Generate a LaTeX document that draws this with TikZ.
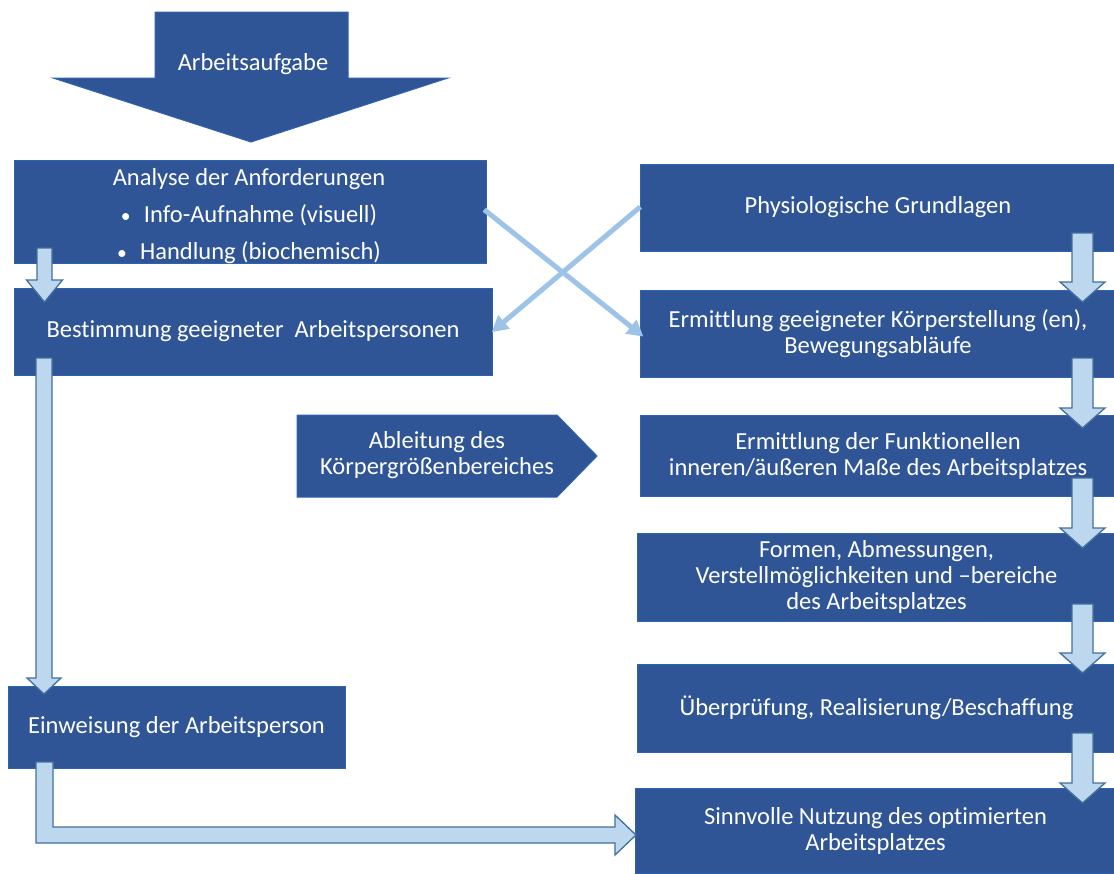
\documentclass[tikz,border=0pt]{standalone}
\usepackage{fontspec}
\setmainfont[Ligatures=NoCommon]{Carlito}
\usetikzlibrary{arrows.meta}
\definecolor{boxblue}{HTML}{2F5597}
\definecolor{boxedge}{HTML}{2E63B0}
\definecolor{arrfill}{HTML}{BDD7EE}
\definecolor{arredge}{HTML}{41719C}
\definecolor{xline}{HTML}{9DC3E6}
\newcommand{\blkdown}[6]{%
  \draw[blk] ({#1-#5},#2) -- ({#1+#5},#2) -- ({#1+#5},#3) -- ({#1+#6},#3) -- (#1,#4) -- ({#1-#6},#3) -- ({#1-#5},#3) -- cycle;}
\newcommand{\bul}{\makebox[23pt][l]{\scalebox{0.8}{•}}}
\tikzset{
  boxshape/.style={draw=boxedge, fill=boxblue, line width=1pt},
  box/.style={boxshape, inner sep=0pt, text=white, align=center, font=\fontsize{24.5}{26}\selectfont},
  txt/.style={inner sep=0pt, text=white, align=center, font=\fontsize{24.5}{26}\selectfont},
  blk/.style={draw=arredge, fill=arrfill, line width=1.3pt, line join=miter},
  xl/.style={draw=xline, line width=5pt, -{Triangle[length=16pt,width=17pt]}}
}
\begin{document}
\begin{tikzpicture}[x=1pt,y=-1pt]
\useasboundingbox (0,0) rectangle (1114,873);
\fill[white] (0,0) rectangle (1114,873);

% big arrow
\draw[boxshape] (155,12) -- (348,12) -- (348,78) -- (448,78) -- (251,142) -- (53,78) -- (155,78) -- cycle;
\node[txt] (aufg) at (253,64) {Arbeitsaufgabe};

% left column
\node[box, minimum width=472pt, minimum height=103pt] (A) at (250,211.5) {};
\node[txt] (Atext) at (249,216)
  {Analyse der Anforderungen\\[11pt]
   \bul Info-Aufnahme (visuell)\\[11pt]
   \bul Handlung (biochemisch)};
\node[box, minimum width=478pt, minimum height=87pt] (B) at (253,331.5)
  {Bestimmung geeigneter~ Arbeitspersonen};
\node[box, minimum width=337pt, minimum height=82pt] (Ein) at (176.5,727)
  {Einweisung der Arbeitsperson};

% pentagon
\draw[boxshape] (297,415) -- (557,415) -- (597,456) -- (557,497) -- (297,497) -- cycle;
\node[txt] (abl) at (437,455) {Ableitung des\\Körpergrößenbereiches};

% right column
\node[box, minimum width=476pt, minimum height=87pt] (P) at (878,207.5)
  {Physiologische Grundlagen};
\node[box, minimum width=476pt, minimum height=87pt] (E1) at (878,333.5)
  {Ermittlung geeigneter Körperstellung (en),\\Bewegungsabläufe};
\node[box, minimum width=476pt, minimum height=81pt] (E2) at (878,455.5)
  {Ermittlung der Funktionellen\\inneren/äußeren Maße des Arbeitsplatzes};
\node[box, minimum width=479pt, minimum height=88pt] (F) at (876.5,577)
  {Formen, Abmessungen,\\Verstellmöglichkeiten und –bereiche\\des Arbeitsplatzes};
\node[box, minimum width=479pt, minimum height=88pt] (U) at (876.5,708)
  {Überprüfung, Realisierung/Beschaffung};
\node[box, minimum width=481pt, minimum height=85pt] (S) at (875.5,830.5)
  {Sinnvolle Nutzung des optimierten\\Arbeitsplatzes};

% crossing arrows
\draw[xl, shorten <=-3pt, shorten >=-5pt] (A.east) -- (E1.west);
\draw[xl, shorten <=-1pt, shorten >=-1pt] (P.west) -- (B.east);

% block arrows, right column
\blkdown{1082.5}{233}{282}{302}{10.5}{22.5}
\blkdown{1082.5}{358}{408}{428}{10.5}{22.5}
\blkdown{1082.5}{478}{528}{548}{10.5}{22.5}
\blkdown{1082.5}{604}{653}{673}{10.5}{22.5}
\blkdown{1082.5}{733}{783}{803}{10.5}{22.5}

% block arrows, left column
\blkdown{44.5}{248}{280}{302}{7.5}{18}
\blkdown{44}{358}{678}{694}{8}{17}

% elbow arrow to S
\draw[blk] (36,762) -- (53,762) -- (53,827) -- (615,827) -- (615,815) -- (636,835) -- (615,855) -- (615,843) -- (36,843) -- cycle;
\end{tikzpicture}
\end{document}
